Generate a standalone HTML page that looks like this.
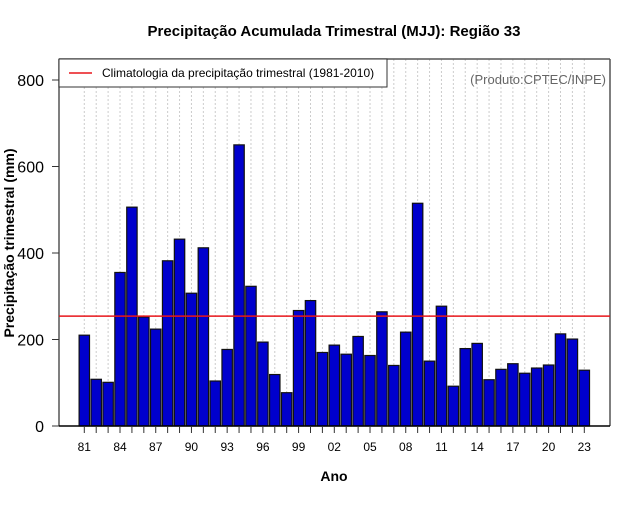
<!DOCTYPE html>
<html><head><meta charset="utf-8"><style>
body{margin:0;background:#fff;}
svg text{font-family:"Liberation Sans",sans-serif;}
</style></head><body>
<svg id="chart" width="640" height="500" viewBox="0 0 640 500" xmlns="http://www.w3.org/2000/svg">
<rect x="0" y="0" width="640" height="500" fill="#fff"/>
<text x="334" y="36" text-anchor="middle" font-size="15" font-weight="bold">Precipitação Acumulada Trimestral (MJJ): Região 33</text>
<g id="grid"></g>
<g id="bars"></g>
<line x1="59" y1="59" x2="59" y2="426" stroke="#555" stroke-width="1.5"/>
<line x1="59" y1="59" x2="610" y2="59" stroke="#555" stroke-width="1.5"/>
<line x1="610" y1="59" x2="610" y2="426" stroke="#555" stroke-width="1.5"/>
<line x1="59" y1="426" x2="610" y2="426" stroke="#000" stroke-width="1.5"/>
<g id="yaxis"></g>
<g id="xaxis"></g>
<line id="clim" x1="59" x2="610" stroke="#e8161b" stroke-width="1.5"/>
<g>
<rect x="59" y="59" width="328" height="28" fill="#fff" stroke="#333" stroke-width="1"/>
<line x1="69" y1="73" x2="92" y2="73" stroke="#e8161b" stroke-width="1.5"/>
<text x="102" y="77" font-size="12">Climatologia da precipitação trimestral (1981-2010)</text>
</g>
<text x="606" y="84" text-anchor="end" font-size="13" fill="#666">(Produto:CPTEC/INPE)</text>
<text x="334" y="481" text-anchor="middle" font-size="14" font-weight="bold">Ano</text>
<text transform="translate(14,243) rotate(-90)" text-anchor="middle" font-size="14" font-weight="bold">Precipitação trimestral (mm)</text>
</svg>
<script>
const years = [1981,1982,1983,1984,1985,1986,1987,1988,1989,1990,1991,1992,1993,1994,1995,1996,1997,1998,1999,2000,2001,2002,2003,2004,2005,2006,2007,2008,2009,2010,2011,2012,2013,2014,2015,2016,2017,2018,2019,2020,2021,2022,2023];
const values = [210,108,101,355,506,252,224,382,432,307,412,104,177,650,323,194,119,77,267,290,170,187,166,207,163,264,140,217,515,150,277,92,179,191,107,131,144,122,134,141,213,201,129];
const climatology = [254];
const yTicks = [0,200,400,600,800];
const NS = "http://www.w3.org/2000/svg";
const x0 = 84.3, pitch = 11.905, barW = 10.4;
const xScale = i => x0 + i * pitch;
const yScale = v => 426 - v * 0.4325;
function mk(tag, attrs, parent){const e=document.createElementNS(NS,tag);for(const k in attrs)e.setAttribute(k,attrs[k]);parent.appendChild(e);return e;}
const grid=document.getElementById('grid'), bars=document.getElementById('bars'), ya=document.getElementById('yaxis'), xa=document.getElementById('xaxis');
years.forEach((y,i)=>{
  const g=mk('line',{x1:xScale(i),x2:xScale(i),y1:59,y2:426,stroke:'#ccc','stroke-dasharray':'2,2','stroke-width':1},grid);
  
  
  const r=mk('rect',{x:xScale(i)-barW/2,y:yScale(values[i]),width:barW,height:426-yScale(values[i]),fill:'#0000cd',stroke:'#111','stroke-width':1.2},bars);
  
  
  const t=mk('line',{x1:xScale(i),x2:xScale(i),y1:426,y2:433,stroke:'#333','stroke-width':1},xa);
  
  
  if(i%3===0){
    const l=mk('text',{x:xScale(i),y:451,'text-anchor':'middle','font-size':12},xa);
    l.textContent=String(y).slice(2);
    
    
  }
});
yTicks.forEach(v=>{
  const t=mk('line',{x1:52,x2:59,y1:yScale(v),y2:yScale(v),stroke:'#333','stroke-width':1},ya);
  
  
  const l=mk('text',{x:44,y:yScale(v)+6,'text-anchor':'end','font-size':16},ya);
  l.textContent=v;
  
  
});
const c=document.getElementById('clim');
c.setAttribute('y1',yScale(climatology[0]));c.setAttribute('y2',yScale(climatology[0]));
</script>
</body></html>
